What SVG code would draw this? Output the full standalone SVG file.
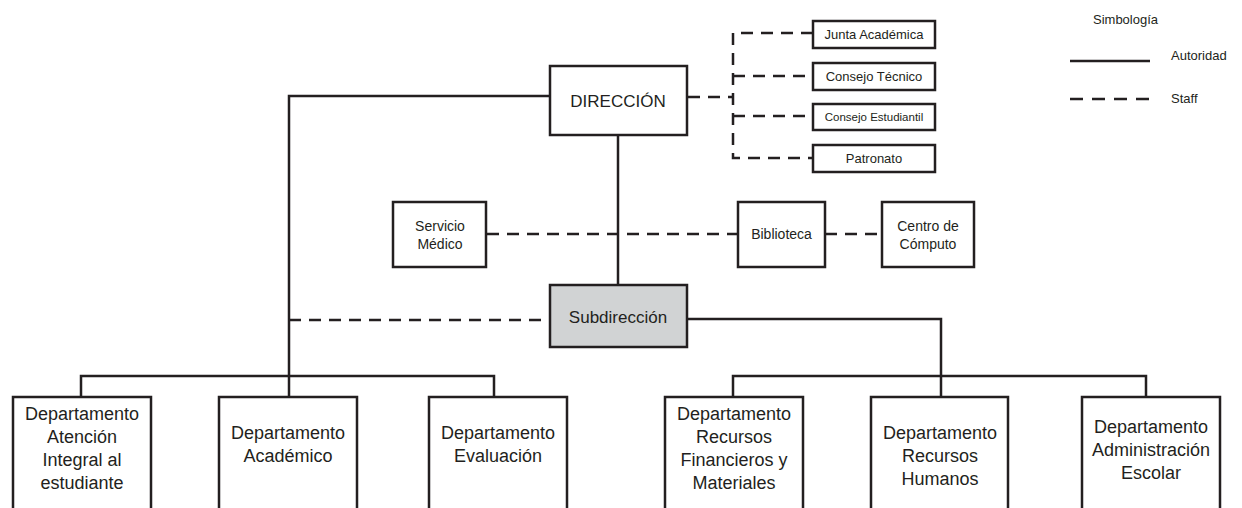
<svg xmlns="http://www.w3.org/2000/svg" width="1242" height="508" viewBox="0 0 1242 508">
  <style>
    .box { fill: #ffffff; stroke: #231f20; stroke-width: 2.5; }
    .sub { fill: #d1d3d4; stroke: #231f20; stroke-width: 2.5; }
    .solid { fill: none; stroke: #231f20; stroke-width: 2.5; }
    .dash { fill: none; stroke: #231f20; stroke-width: 2.5; stroke-dasharray: 12 8; }
    text { font-family: "Liberation Sans", Arial, sans-serif; fill: #231f20; text-anchor: middle; }
    .big { font-size: 17px; }
    .dept { font-size: 18px; }
    .mid { font-size: 14px; }
    .small { font-size: 13px; }
    .tiny { font-size: 11.5px; }
    .legend { font-size: 13px; text-anchor: start; }
  </style>

  <!-- connectors -->
  <g id="connectors">
    <!-- authority lines -->
    <path class="solid" d="M549 96 H289 V376"/>
    <path class="solid" d="M618 136 V284"/>
    <path class="solid" d="M81 397 V376 H494 V397"/>
    <path class="solid" d="M289 376 V397"/>
    <path class="solid" d="M687 319 H941 V376"/>
    <path class="solid" d="M733 397 V376 H1146 V397"/>
    <path class="solid" d="M941 376 V397"/>
    <!-- staff lines -->
    <path class="dash" d="M688 97 H733"/>
    <path class="dash" d="M813 33 H733 V158 H813"/>
    <path class="dash" d="M733 76 H813"/>
    <path class="dash" d="M733 116 H813"/>
    <path class="dash" d="M487 234 H738"/>
    <path class="dash" d="M825 234 H882"/>
    <path class="dash" d="M289 320 H549"/>
  </g>

  <!-- top level -->
  <g id="direccion">
    <rect class="box" x="550" y="66" width="137" height="69"/>
    <text class="big" x="618" y="107">DIRECCIÓN</text>
  </g>

  <!-- staff bodies -->
  <g id="junta-academica">
    <rect class="box" x="813" y="21" width="122" height="27"/>
    <text class="small" x="874" y="39">Junta Académica</text>
  </g>
  <g id="consejo-tecnico">
    <rect class="box" x="813" y="63" width="122" height="27"/>
    <text class="small" x="874" y="81">Consejo Técnico</text>
  </g>
  <g id="consejo-estudiantil">
    <rect class="box" x="813" y="104" width="122" height="26"/>
    <text class="tiny" x="874" y="121">Consejo Estudiantil</text>
  </g>
  <g id="patronato">
    <rect class="box" x="813" y="145" width="122" height="27"/>
    <text class="small" x="874" y="163">Patronato</text>
  </g>

  <!-- support services -->
  <g id="servicio-medico">
    <rect class="box" x="393" y="202" width="93" height="65"/>
    <text class="mid" x="440" y="231">Servicio</text>
    <text class="mid" x="440" y="249">Médico</text>
  </g>
  <g id="biblioteca">
    <rect class="box" x="738" y="202" width="87" height="65"/>
    <text class="mid" x="781.5" y="239">Biblioteca</text>
  </g>
  <g id="centro-computo">
    <rect class="box" x="882" y="202" width="92" height="65"/>
    <text class="mid" x="928" y="231">Centro de</text>
    <text class="mid" x="928" y="249">Cómputo</text>
  </g>

  <!-- second level -->
  <g id="subdireccion">
    <rect class="sub" x="550" y="285" width="137" height="62"/>
    <text class="big" x="618" y="323">Subdirección</text>
  </g>

  <!-- departments -->
  <g id="depto-atencion">
    <rect class="box" x="13" y="397" width="138" height="130"/>
    <text class="dept" x="82" y="419.5">Departamento</text>
    <text class="dept" x="82" y="442.5">Atención</text>
    <text class="dept" x="82" y="465.5">Integral al</text>
    <text class="dept" x="82" y="488.5">estudiante</text>
  </g>
  <g id="depto-academico">
    <rect class="box" x="219" y="397" width="138" height="130"/>
    <text class="dept" x="288" y="438.5">Departamento</text>
    <text class="dept" x="288" y="461.5">Académico</text>
  </g>
  <g id="depto-evaluacion">
    <rect class="box" x="429" y="397" width="138" height="130"/>
    <text class="dept" x="498" y="438.5">Departamento</text>
    <text class="dept" x="498" y="461.5">Evaluación</text>
  </g>
  <g id="depto-financieros">
    <rect class="box" x="665" y="397" width="138" height="130"/>
    <text class="dept" x="734" y="419.5">Departamento</text>
    <text class="dept" x="734" y="442.5">Recursos</text>
    <text class="dept" x="734" y="465.5">Financieros y</text>
    <text class="dept" x="734" y="488.5">Materiales</text>
  </g>
  <g id="depto-humanos">
    <rect class="box" x="871" y="397" width="137" height="130"/>
    <text class="dept" x="940" y="438.5">Departamento</text>
    <text class="dept" x="940" y="461.5">Recursos</text>
    <text class="dept" x="940" y="484.5">Humanos</text>
  </g>
  <g id="depto-escolar">
    <rect class="box" x="1082" y="397" width="138" height="130"/>
    <text class="dept" x="1151" y="432.5">Departamento</text>
    <text class="dept" x="1151" y="455.5">Administración</text>
    <text class="dept" x="1151" y="478.5">Escolar</text>
  </g>

  <!-- legend -->
  <g id="simbologia">
    <text class="legend" x="1093" y="24">Simbología</text>
    <line class="solid" x1="1070" y1="61" x2="1150" y2="61"/>
    <text class="legend" x="1171" y="60">Autoridad</text>
    <line class="dash" x1="1070" y1="99" x2="1150" y2="99" style="stroke-dasharray: 13 9;"/>
    <text class="legend" x="1171" y="103">Staff</text>
  </g>
</svg>
